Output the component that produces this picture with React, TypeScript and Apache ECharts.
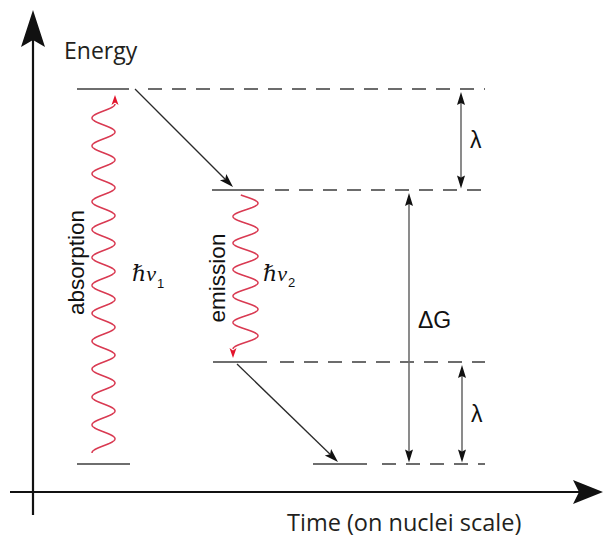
import { useEffect, useRef } from 'react';
import * as echarts from 'echarts';

// ---- Diagram data (time in arbitrary units, energy relative to the relaxed ground state) ----

// Horizontal energy levels: [time start, time end, energy]
const levelSegments: number[][] = [
  [77, 130, 0],
  [77, 129, 375],
  [212, 264, 274],
  [213, 267, 102],
  [313, 367, 0],
];

// Dashed guides carrying each level over to the energy-gap scale: [time start, time end, energy]
const guideLines: number[][] = [
  [148, 485, 375],
  [275, 485, 274],
  [280, 485, 102],
  [382, 485, 0],
];

// Nuclear relaxation steps: [t0, E0, t1, E1]
const relaxations: number[][] = [
  [135, 375, 233, 277],
  [237, 100, 338, 2],
];

// Energy gaps drawn as double arrows
const gapTimes = [461, 409, 462];
const gapLower = [274, 0, 0];
const gapUpper = [375, 274, 102];
const gapLabels = ['λ', 'ΔG', 'λ'];

// Photons: [time, start energy, end energy]
const photons: number[][] = [
  [103.5, 11, 360],
  [245.5, 269, 115],
];
const photonNames = ['absorption', 'emission'];
const photonSubscripts = ['1', '2'];

// Coordinate axes: [t0, E0, t1, E1]
const axisArrows: number[][] = [
  [33, -51, 33, 454],
  [10, -28, 603, -28],
];
const axisTitles = ['Energy', 'Time (on nuclei scale)'];

// ---- Layout / styling ----
const axisTitleAnchors = [
  { at: [64, 414], align: 'left', size: 23 },
  { at: [287, -58], align: 'left', size: 23.5 },
];
const axisHeads = [
  { length: 37, width: 24, notch: 7 },
  { length: 30, width: 24, notch: 6 },
];
const photonShape = [
  { amplitude: 11.5, wavelength: 27.9, endSide: 1, nameDx: -27.5, nameDy: -16, hvDx: 28.5, hvDy: -16 },
  { amplitude: 12.5, wavelength: 26.5, endSide: -1, nameDx: -28.5, nameDy: 6, hvDx: 17.5, hvDy: -10 },
];
const gapLabelDy = [0, -8, 0];

const SANS = '"Liberation Sans", Arial, Helvetica, sans-serif';
const TITLE_FONT = '"Open Sans", "Noto Sans", sans-serif';
const SERIF = '"Liberation Serif", "DejaVu Serif", serif';
const PHOTON_RED = '#d93a52';
const HEAD_RED = '#e3142c';

function head(tip: number[], from: number[], length: number, width: number, notch: number, fill: string) {
  const dx = tip[0] - from[0];
  const dy = tip[1] - from[1];
  const len = Math.hypot(dx, dy) || 1;
  const ux = dx / len;
  const uy = dy / len;
  const nx = -uy;
  const ny = ux;
  const bx = tip[0] - ux * length;
  const by = tip[1] - uy * length;
  return {
    type: 'polygon',
    shape: {
      points: [
        [tip[0], tip[1]],
        [bx + (nx * width) / 2, by + (ny * width) / 2],
        [tip[0] - ux * (length - notch), tip[1] - uy * (length - notch)],
        [bx - (nx * width) / 2, by - (ny * width) / 2],
      ],
    },
    style: { fill },
  };
}

function back(tip: number[], from: number[], d: number) {
  const dx = tip[0] - from[0];
  const dy = tip[1] - from[1];
  const len = Math.hypot(dx, dy) || 1;
  return [tip[0] - (dx / len) * d, tip[1] - (dy / len) * d];
}

const option: any = {
  animation: false,
  backgroundColor: '#ffffff',
  grid: { left: 0, right: 0, top: 0, bottom: 0 },
  xAxis: { type: 'value', min: 0, max: 606, show: false, splitLine: { show: false } },
  yAxis: { type: 'value', min: -75, max: 464, show: false, splitLine: { show: false } },
  series: [
    // dashed guides
    {
      type: 'custom',
      coordinateSystem: 'cartesian2d',
      silent: true,
      data: guideLines,
      renderItem: (_p: any, api: any) => {
        const a = api.coord([api.value(0), api.value(2)]);
        const b = api.coord([api.value(1), api.value(2)]);
        return {
          type: 'line',
          shape: { x1: a[0], y1: a[1], x2: b[0], y2: b[1] },
          style: { stroke: '#3c3c3c', lineWidth: 1.3, lineDash: [14, 10] },
        };
      },
    },
    // energy levels
    {
      type: 'custom',
      coordinateSystem: 'cartesian2d',
      silent: true,
      data: levelSegments,
      renderItem: (_p: any, api: any) => {
        const a = api.coord([api.value(0), api.value(2)]);
        const b = api.coord([api.value(1), api.value(2)]);
        return {
          type: 'line',
          shape: { x1: a[0], y1: a[1], x2: b[0], y2: b[1] },
          style: { stroke: '#6e6e6e', lineWidth: 2 },
        };
      },
    },
    // axes
    {
      type: 'custom',
      coordinateSystem: 'cartesian2d',
      silent: true,
      data: axisArrows,
      renderItem: (p: any, api: any) => {
        const a = api.coord([api.value(0), api.value(1)]);
        const b = api.coord([api.value(2), api.value(3)]);
        const h = axisHeads[p.dataIndex];
        const e = back(b, a, h.length - h.notch);
        const t = axisTitleAnchors[p.dataIndex];
        const tp = api.coord(t.at);
        return {
          type: 'group',
          children: [
            {
              type: 'line',
              shape: { x1: a[0], y1: a[1], x2: e[0], y2: e[1] },
              style: { stroke: '#111', lineWidth: 2.2 },
            },
            head(b, a, h.length, h.width, h.notch, '#111'),
            {
              type: 'text',
              x: tp[0],
              y: tp[1],
              style: {
                text: axisTitles[p.dataIndex],
                fill: '#231f20',
                fontSize: t.size,
                fontFamily: TITLE_FONT,
                align: t.align,
                verticalAlign: 'middle',
              },
            },
          ],
        };
      },
    },
    // relaxation arrows
    {
      type: 'custom',
      coordinateSystem: 'cartesian2d',
      silent: true,
      data: relaxations,
      renderItem: (_p: any, api: any) => {
        const a = api.coord([api.value(0), api.value(1)]);
        const b = api.coord([api.value(2), api.value(3)]);
        const e = back(b, a, 11);
        return {
          type: 'group',
          children: [
            {
              type: 'line',
              shape: { x1: a[0], y1: a[1], x2: e[0], y2: e[1] },
              style: { stroke: '#2a2a2a', lineWidth: 1.3 },
            },
            head(b, a, 14, 9, 3, '#111'),
          ],
        };
      },
    },
    // energy gaps
    {
      type: 'custom',
      coordinateSystem: 'cartesian2d',
      silent: true,
      data: gapTimes.map((t, i) => [t, gapLower[i], gapUpper[i]]),
      renderItem: (p: any, api: any) => {
        const lo = api.coord([api.value(0), api.value(1)]);
        const hi = api.coord([api.value(0), api.value(2)]);
        const top = [hi[0], hi[1] + 3];
        const bot = [lo[0], lo[1] - 1.5];
        const s = back(top, bot, 11);
        const f = back(bot, top, 11);
        return {
          type: 'group',
          children: [
            {
              type: 'line',
              shape: { x1: s[0], y1: s[1], x2: f[0], y2: f[1] },
              style: { stroke: '#6f6f6f', lineWidth: 1.6 },
            },
            head(top, bot, 13, 8, 2, '#111'),
            head(bot, top, 13, 8, 2, '#111'),
            {
              type: 'text',
              x: top[0] + 9,
              y: (top[1] + bot[1]) / 2 + gapLabelDy[p.dataIndex],
              style: {
                text: gapLabels[p.dataIndex],
                fill: '#111',
                fontSize: 23,
                fontFamily: SANS,
                align: 'left',
                verticalAlign: 'middle',
              },
            },
          ],
        };
      },
    },
    // photons
    {
      type: 'custom',
      coordinateSystem: 'cartesian2d',
      silent: true,
      data: photons,
      renderItem: (p: any, api: any) => {
        const shape = photonShape[p.dataIndex];
        const start = api.coord([api.value(0), api.value(1)]);
        const end = api.coord([api.value(0), api.value(2)]);
        const dir = end[1] < start[1] ? -1 : 1;
        const total = Math.abs(end[1] - start[1]);
        const n = Math.ceil(total * 2);
        const pts: number[][] = [];
        for (let k = 0; k <= n; k++) {
          const d = total - (total * k) / n; // distance left to the end
          const y = end[1] - dir * d;
          const x = end[0] + shape.endSide * shape.amplitude * Math.cos((2 * Math.PI * d) / shape.wavelength);
          pts.push([x, y]);
        }
        const last = pts[pts.length - 1];
        const tip = [last[0], last[1] + dir * 9];
        const midY = (start[1] + end[1]) / 2;
        return {
          type: 'group',
          children: [
            {
              type: 'polyline',
              shape: { points: pts },
              style: { stroke: PHOTON_RED, lineWidth: 1.5, fill: 'none' },
            },
            head(tip, last, 10, 7, 2.5, HEAD_RED),
            {
              type: 'text',
              x: start[0] + shape.nameDx,
              y: midY + shape.nameDy,
              rotation: Math.PI / 2,
              style: {
                text: photonNames[p.dataIndex],
                fill: '#111',
                fontSize: 22.5,
                fontFamily: SANS,
                align: 'center',
                verticalAlign: 'middle',
              },
            },
            {
              type: 'text',
              x: start[0] + shape.hvDx,
              y: midY + shape.hvDy,
              style: {
                text: `{m|ℏν}{s|${photonSubscripts[p.dataIndex]}}`,
                align: 'left',
                verticalAlign: 'top',
                rich: {
                  m: {
                    fontSize: 22,
                    fontStyle: 'italic',
                    fontFamily: SERIF,
                    fill: '#111',
                    lineHeight: 22,
                    verticalAlign: 'top',
                  },
                  s: {
                    fontSize: 13,
                    fontFamily: SANS,
                    fill: '#111',
                    lineHeight: 13,
                    padding: [14, 0, 0, 1],
                    verticalAlign: 'top',
                  },
                },
              },
            },
          ],
        };
      },
    },
  ],
};

export default function App() {
  const ref = useRef<HTMLDivElement>(null);
  useEffect(() => {
    const chart = echarts.init(ref.current as HTMLDivElement, null, { renderer: 'svg' });
    chart.setOption(option);
    return () => chart.dispose();
  }, []);
  return (
    <div
      ref={ref}
      style={{ position: 'absolute', left: 0, top: 0, width: 606, height: 539, background: '#fff' }}
    />
  );
}
